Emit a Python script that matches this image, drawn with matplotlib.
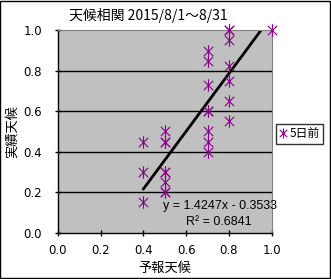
import numpy as np
import matplotlib
matplotlib.use('Agg')
import matplotlib.pyplot as plt
from matplotlib.path import Path
from matplotlib.patches import Rectangle

plt.rcParams['font.family'] = ['Noto Sans CJK JP', 'DejaVu Sans']

# %% data
forecast = [0.4, 0.4, 0.4,
            0.5, 0.5, 0.5, 0.5, 0.5, 0.5, 0.5, 0.5,
            0.7, 0.7, 0.7, 0.7, 0.7, 0.7, 0.7, 0.7,
            0.8, 0.8, 0.8, 0.8, 0.8, 0.8, 0.8,
            1.0]
actual = [0.45, 0.30, 0.15,
          0.50, 0.45, 0.45, 0.30, 0.30, 0.25, 0.20, 0.20,
          0.90, 0.85, 0.73, 0.60, 0.60, 0.50, 0.45, 0.40,
          1.00, 1.00, 0.95, 0.825, 0.75, 0.65, 0.55,
          1.00]
slope, intercept, r2 = 1.4247, -0.3533, 0.6841
ticks = [0.0, 0.2, 0.4, 0.6, 0.8, 1.0]

# %% figure
fig = plt.figure(figsize=(3.31, 2.79), dpi=100)
fig.patches.append(Rectangle((0.0015, 0.002), 0.996, 0.995, transform=fig.transFigure,
                             fill=False, edgecolor='black', linewidth=1))
ax = fig.add_axes([0.1752, 0.166, 0.6456, 0.7254])
ax.set_facecolor('#C0C0C0')

# excel style star marker
star = Path([(0, -1), (0, 1), (-0.75, -0.75), (0.75, 0.75), (-0.75, 0.75), (0.75, -0.75)],
            [Path.MOVETO, Path.LINETO, Path.MOVETO, Path.LINETO, Path.MOVETO, Path.LINETO])

for y in ticks[1:-1]:
    ax.axhline(y, color='black', linewidth=1, zorder=1)

ax.plot(forecast, actual, linestyle='none', marker=star, markersize=9,
        markeredgecolor='#8B008B', markeredgewidth=0.8, color='#8B008B',
        label='5日前', zorder=3, clip_on=False)

xt = np.array([min(forecast), max(forecast)])
ax.plot(xt, slope * xt + intercept, color='black', linewidth=2, zorder=2)

ax.set_xlim(0, 1)
ax.set_ylim(0, 1)
ax.set_xticks(ticks)
ax.set_yticks(ticks)
ax.set_xticklabels(['{0:.1f}'.format(t) for t in ticks], family=['DejaVu Sans'], fontsize=8.5)
ax.set_yticklabels(['{0:.1f}'.format(t) for t in ticks], family=['DejaVu Sans'], fontsize=8.5)
ax.tick_params(axis='x', direction='inout', length=5, width=1, pad=6)
ax.tick_params(axis='y', direction='inout', length=5, width=1, pad=9)

for s in ['top', 'right']:
    ax.spines[s].set_color('#808080')
    ax.spines[s].set_linewidth(0.8)
for s in ['left', 'bottom']:
    ax.spines[s].set_color('black')
    ax.spines[s].set_linewidth(1)

ax.set_xlabel('予報天候', fontsize=9.5, labelpad=3)
ax.set_ylabel('実績天候', fontsize=9.5, labelpad=3)

fig.text(0.447, 0.945, '天候相関 2015/8/1～8/31', fontsize=10, ha='center', va='center')

ax.text(0.49, 0.13, 'y = {0:.4f}x - {1:.4f}'.format(slope, -intercept),
        transform=ax.transAxes, ha='left', va='center', fontsize=9,
        family=['Liberation Sans'])
ax.text(0.6, 0.055, 'R² = {0:.4f}'.format(r2),
        transform=ax.transAxes, ha='left', va='center', fontsize=9,
        family=['Liberation Sans'])

leg = fig.legend(loc='center', bbox_to_anchor=(0.905, 0.52), frameon=True,
                 fancybox=False, handlelength=0.6, handletextpad=0.2, borderpad=0.3,
                 fontsize=8.5, borderaxespad=0, markerscale=0.8)
leg.get_frame().set_edgecolor('black')
leg.get_frame().set_linewidth(1)

fig.savefig('out.png', dpi=100)
